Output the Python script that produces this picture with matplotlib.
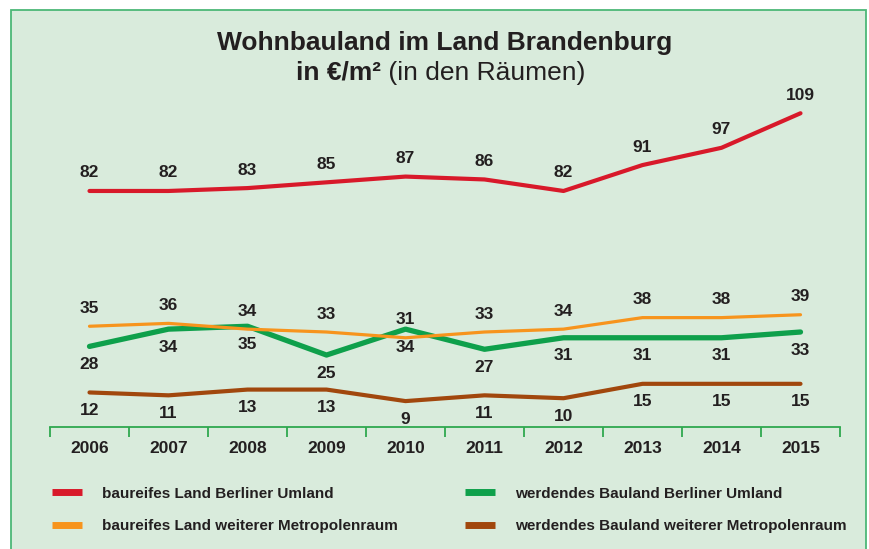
import matplotlib.pyplot as plt
from matplotlib.patches import Rectangle
from matplotlib.lines import Line2D

# data
years = ["2006", "2007", "2008", "2009", "2010", "2011", "2012", "2013", "2014", "2015"]
baureif_umland = [82, 82, 83, 85, 87, 86, 82, 91, 97, 109]
werdend_umland = [28, 34, 35, 25, 34, 27, 31, 31, 31, 33]
baureif_metro = [35, 36, 34, 33, 31, 33, 34, 38, 38, 39]
werdend_metro = [12, 11, 13, 13, 9, 11, 10, 15, 15, 15]

names = ["baureifes Land Berliner Umland", "baureifes Land weiterer Metropolenraum",
         "werdendes Bauland Berliner Umland", "werdendes Bauland weiterer Metropolenraum"]

bg = "#d9ebdc"
frame = "#4cb877"
txt = "#231f20"
font = ["Liberation Sans", "DejaVu Sans"]

W, H = 870, 549
fig = plt.figure(figsize=(W / 100, H / 100), dpi=100, facecolor="white")

# background box
fig.patches.append(Rectangle((11 / W, -0.05), (866 - 11) / W, 1.05 - 10 / H,
                             transform=fig.transFigure, facecolor=bg,
                             edgecolor=frame, lw=1.3, zorder=-5))

ax = fig.add_axes([50 / W, 1 - 427 / H, 790 / W, (427 - 60) / H])
ax.set_facecolor("none")
x = list(range(len(years)))

# order: red, orange, green, brown (legend column order)
series = [
    (baureif_umland, "#d8192a", 3.0, 18),
    (baureif_metro, "#f7941d", 2.3, 18),
    (werdend_umland, "#0ea04b", 3.8, -18),
    (werdend_metro, "#a1470d", 3.0, -18),
]
zorders = [3, 3, 2, 2]
handles = []
for (vals, col, lw, off), name, z in zip(series, names, zorders):
    ax.plot(x, vals, color=col, lw=lw, solid_capstyle="round", label=name, zorder=z)
    handles.append(Line2D([], [], color=col, lw=5, solid_capstyle="butt"))
    for xi, v in zip(x, vals):
        ax.annotate(str(v), (xi, v), xytext=(0, off), textcoords="offset pixels",
                    ha="center", va="center", fontsize=12.5, fontweight="bold",
                    family=font, color=txt)

ax.set_xlim(-0.5, len(years) - 0.5)
ax.set_ylim(0, 127.5)
for s in ["top", "right", "left"]:
    ax.spines[s].set_visible(False)
ax.spines["bottom"].set_color("#2fa84f")
ax.spines["bottom"].set_linewidth(1.3)
ax.set_yticks([])
ax.set_xticks(x)
ax.set_xticklabels(years, fontsize=12.5, fontweight="bold", family=font, color=txt)
ax.tick_params(axis="x", which="major", length=0, pad=10)
ax.set_xticks([i - 0.5 for i in range(len(years) + 1)], minor=True)
ax.tick_params(axis="x", which="minor", length=7, width=1.3, color="#2fa84f", direction="out")

# title
fig.text(445 / W, 1 - 43 / H, "Wohnbauland im Land Brandenburg", ha="center", va="center",
         fontsize=19, fontweight="bold", family=font, color=txt)
fig.canvas.draw()
r = fig.canvas.get_renderer()
t1 = fig.text(0, 1 - 73 / H, "in €/m²", ha="left", va="center",
              fontsize=19, fontweight="bold", family=font, color=txt)
t2 = fig.text(0, 1 - 73 / H, " (in den Räumen)", ha="left", va="center",
              fontsize=19, family=font, color=txt)
w1 = t1.get_window_extent(r).width
w2 = t2.get_window_extent(r).width
start = 441 - (w1 + w2) / 2
t1.set_x(start / W)
t2.set_x((start + w1) / W)

# legend
leg = fig.legend(handles, names, ncol=2,
                 loc="upper left", bbox_to_anchor=(38 / W, 1 - 473 / H),
                 frameon=False, handlelength=2.0, handletextpad=1.3,
                 columnspacing=4.35, labelspacing=1.2,
                 prop={"family": font, "size": 11, "weight": "bold"})
for t in leg.get_texts():
    t.set_color(txt)

fig.savefig("out.png", dpi=100, facecolor="white")
